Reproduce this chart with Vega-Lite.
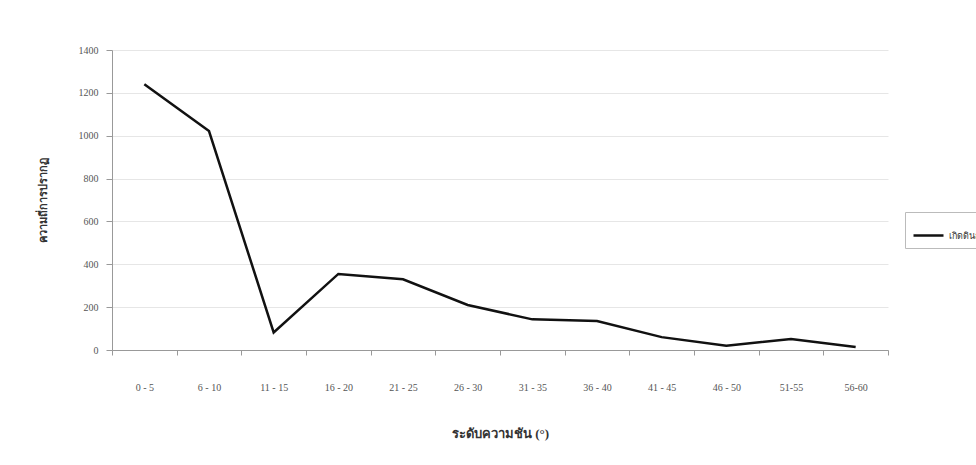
{
  "$schema": "https://vega.github.io/schema/vega-lite/v6.json",
  "width": 776,
  "height": 300,
  "autosize": {"type": "none"},
  "padding": {"left": 112, "top": 50, "right": 88, "bottom": 115},
  "background": "white",
  "config": {
    "font": "Liberation Serif",
    "view": {"stroke": null},
    "axis": {
      "labelFont": "Liberation Serif",
      "labelFontSize": 10,
      "labelColor": "#555555",
      "titleFont": "Liberation Serif",
      "titleColor": "#333333",
      "titleFontWeight": "bold",
      "domainColor": "#999999",
      "tickColor": "#999999",
      "gridColor": "#e6e6e6"
    }
  },
  "data": {
    "values": [
      {"range": "0 - 5", "count": 1240, "series": "เกิดดินถล่ม"},
      {"range": "6 - 10", "count": 1022, "series": "เกิดดินถล่ม"},
      {"range": "11 - 15", "count": 82, "series": "เกิดดินถล่ม"},
      {"range": "16 - 20", "count": 355, "series": "เกิดดินถล่ม"},
      {"range": "21 - 25", "count": 330, "series": "เกิดดินถล่ม"},
      {"range": "26 - 30", "count": 210, "series": "เกิดดินถล่ม"},
      {"range": "31 - 35", "count": 143, "series": "เกิดดินถล่ม"},
      {"range": "36 - 40", "count": 135, "series": "เกิดดินถล่ม"},
      {"range": "41 - 45", "count": 60, "series": "เกิดดินถล่ม"},
      {"range": "46 - 50", "count": 20, "series": "เกิดดินถล่ม"},
      {"range": "51-55", "count": 51, "series": "เกิดดินถล่ม"},
      {"range": "56-60", "count": 14, "series": "เกิดดินถล่ม"}
    ]
  },
  "mark": {"type": "line", "strokeWidth": 2.5},
  "encoding": {
    "x": {
      "field": "range",
      "type": "ordinal",
      "sort": null,
      "title": "ระดับความชัน (°)",
      "axis": {
        "labelAngle": 0,
        "labelPadding": 27,
        "tickBand": "extent",
        "tickSize": 5,
        "titleFontSize": 13,
        "titlePadding": 35
      }
    },
    "y": {
      "field": "count",
      "type": "quantitative",
      "scale": {"domain": [0, 1400]},
      "title": "ความถี่การปรากฏ",
      "axis": {
        "values": [0, 200, 400, 600, 800, 1000, 1200, 1400],
        "format": "d",
        "tickSize": 6,
        "labelPadding": 8,
        "titleFontSize": 11,
        "titlePadding": 30
      }
    },
    "color": {
      "field": "series",
      "type": "nominal",
      "scale": {"range": ["#111111"]},
      "legend": {
        "title": null,
        "orient": "none",
        "legendX": 793,
        "legendY": 162,
        "symbolType": "stroke",
        "symbolSize": 900,
        "symbolStrokeWidth": 2.5,
        "strokeColor": "#bbbbbb",
        "padding": 7,
        "labelFont": "Liberation Serif",
        "labelFontSize": 9,
        "labelColor": "#333333"
      }
    }
  }
}
